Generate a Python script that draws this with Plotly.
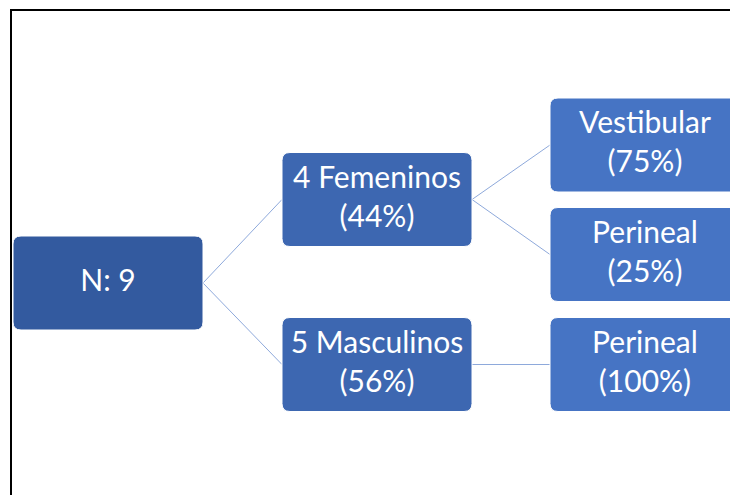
import plotly.graph_objects as go

# ---- data ----
node_labels = ["N: 9", "4 Femeninos<br>(44%)", "5 Masculinos<br>(56%)",
               "Vestibular<br>(75%)", "Perineal<br>(25%)", "Perineal<br>(100%)"]
node_level = [0, 1, 1, 2, 2, 2]
node_parent = [None, 0, 0, 1, 1, 2]

# ---- layout (pixel coordinates) ----
W, H = 730, 495
col_x0 = [13, 282, 550]
box_w = 190
box_h = 94
node_yc = [283, 199.5, 364.5, 145, 254.5, 364.5]
level_colors = ["#335A9F", "#3D67B1", "#4674C4"]
line_color = "#8EA9DB"

def rrect(x0, y0, x1, y1, r):
    return (f"M {x0+r},{y0} L {x1-r},{y0} Q {x1},{y0} {x1},{y0+r} "
            f"L {x1},{y1-r} Q {x1},{y1} {x1-r},{y1} L {x0+r},{y1} "
            f"Q {x0},{y1} {x0},{y1-r} L {x0},{y0+r} Q {x0},{y0} {x0+r},{y0} Z")

fig = go.Figure()
shapes = []
# frame
shapes.append(dict(type="rect", x0=11, y0=10, x1=W + 20, y1=H + 20,
                   line=dict(color="#000000", width=2), fillcolor="rgba(0,0,0,0)",
                   layer="below"))
# connectors
for i, p in enumerate(node_parent):
    if p is None:
        continue
    xs = col_x0[node_level[p]] + box_w
    xe = col_x0[node_level[i]]
    shapes.append(dict(type="line", x0=xs, y0=node_yc[p], x1=xe, y1=node_yc[i],
                       line=dict(color=line_color, width=1), layer="below"))
# boxes
for i, lab in enumerate(node_labels):
    lv = node_level[i]
    x0 = col_x0[lv]
    y0 = node_yc[i] - box_h / 2
    shapes.append(dict(type="path", path=rrect(x0, y0, x0 + box_w, y0 + box_h, 8),
                       fillcolor=level_colors[lv], line=dict(color="#FFFFFF", width=1),
                       layer="below"))

fig.add_trace(go.Scatter(
    x=[col_x0[node_level[i]] + box_w / 2 for i in range(len(node_labels))],
    y=node_yc,
    mode="text",
    text=node_labels,
    textposition="middle center",
    textfont=dict(family="Lato, Open Sans, sans-serif", size=30, color="#FFFFFF"),
    hoverinfo="skip",
    showlegend=False,
    cliponaxis=False,
))

fig.update_layout(
    width=W, height=H,
    margin=dict(l=0, r=0, t=0, b=0),
    paper_bgcolor="#FFFFFF", plot_bgcolor="#FFFFFF",
    shapes=shapes,
    xaxis=dict(range=[0, W], visible=False, fixedrange=True),
    yaxis=dict(range=[H, 0], visible=False, fixedrange=True),
    showlegend=False,
)
fig.write_html("out.html", config={"displayModeBar": False},
               post_script="document.body.style.margin='0';document.body.style.overflow='hidden';")
